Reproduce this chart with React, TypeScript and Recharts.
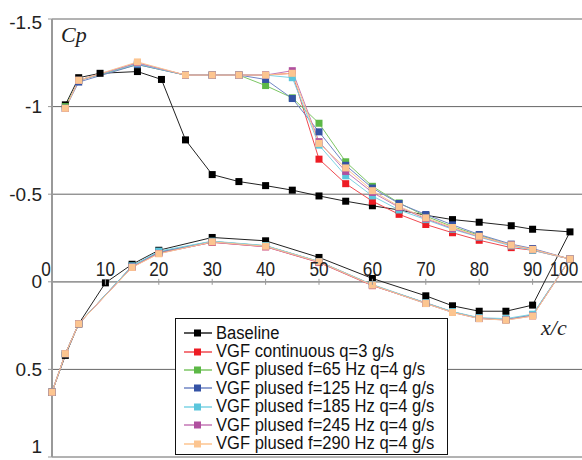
import { LineChart, Line, XAxis, YAxis, CartesianGrid, ReferenceLine } from "recharts";

// tap positions (x/c, %)
const baseLowerX = [0, 2.5, 5, 10, 15, 20, 30, 40, 50, 60, 70, 75, 80, 85, 90];
const baseUpperX = [2.5, 5, 9, 16, 20.5, 25, 30, 35, 40, 45, 50, 55, 60, 65, 70, 75, 80, 86, 90, 97];
const vgfLowerX = [0, 2.5, 5, 15, 20, 30, 40, 50, 60, 70, 75, 80, 85, 90];
const vgfUpperX = [2.5, 5, 16, 25, 30, 35, 40, 45, 50, 55, 60, 65, 70, 75, 80, 86, 90, 97];

// Cp values
const baseLower = [0.63, 0.42, 0.24, 0.006, -0.1, -0.18, -0.253, -0.234, -0.139, -0.019, 0.08, 0.137, 0.168, 0.168, 0.133];
const baseUpper = [-1.01, -1.165, -1.19, -1.2, -1.155, -0.81, -0.612, -0.572, -0.549, -0.523, -0.49, -0.46, -0.434, -0.41, -0.38, -0.355, -0.34, -0.32, -0.3, -0.285];

const contLower = [0.63, 0.41, 0.24, -0.085, -0.165, -0.225, -0.2, -0.11, 0.022, 0.12, 0.172, 0.207, 0.215, 0.19];
const contUpper = [-0.99, -1.15, -1.245, -1.18, -1.18, -1.18, -1.18, -1.19, -0.7, -0.56, -0.46, -0.385, -0.327, -0.28, -0.237, -0.195, -0.18, -0.13];

const f65Lower = [0.63, 0.41, 0.24, -0.09, -0.17, -0.23, -0.205, -0.115, 0.018, 0.122, 0.172, 0.208, 0.217, 0.19];
const f65Upper = [-1.0, -1.15, -1.24, -1.18, -1.18, -1.18, -1.12, -1.05, -0.905, -0.685, -0.545, -0.45, -0.375, -0.315, -0.265, -0.21, -0.185, -0.13];

const f125Lower = [0.63, 0.41, 0.24, -0.09, -0.17, -0.23, -0.205, -0.115, 0.018, 0.122, 0.173, 0.208, 0.216, 0.19];
const f125Upper = [-0.99, -1.14, -1.24, -1.18, -1.18, -1.18, -1.155, -1.046, -0.856, -0.665, -0.535, -0.447, -0.384, -0.325, -0.27, -0.215, -0.19, -0.13];

const f185Lower = [0.63, 0.41, 0.24, -0.09, -0.175, -0.232, -0.207, -0.116, 0.016, 0.12, 0.17, 0.205, 0.21, 0.185];
const f185Upper = [-0.99, -1.15, -1.245, -1.18, -1.18, -1.18, -1.18, -1.165, -0.78, -0.605, -0.49, -0.41, -0.355, -0.3, -0.255, -0.205, -0.18, -0.13];

const f245Lower = [0.63, 0.41, 0.24, -0.084, -0.162, -0.226, -0.2, -0.112, 0.02, 0.124, 0.175, 0.21, 0.218, 0.195];
const f245Upper = [-0.99, -1.15, -1.25, -1.18, -1.18, -1.18, -1.18, -1.205, -0.8, -0.63, -0.51, -0.425, -0.36, -0.305, -0.258, -0.21, -0.185, -0.13];

const f290Lower = [0.63, 0.41, 0.24, -0.082, -0.16, -0.228, -0.203, -0.114, 0.019, 0.124, 0.175, 0.21, 0.219, 0.196];
const f290Upper = [-0.99, -1.15, -1.255, -1.18, -1.18, -1.18, -1.18, -1.19, -0.79, -0.65, -0.52, -0.43, -0.365, -0.31, -0.26, -0.21, -0.185, -0.13];

const xTicks = [0, 10, 20, 30, 40, 50, 60, 70, 80, 90, 100];
const yTicks = [-1.5, -1, -0.5, 0, 0.5, 1];

// lower surface LE -> TE, then upper surface TE -> LE
function loop(lx: number[], lcp: number[], ux: number[], ucp: number[]) {
  const lower = lx.map((x, i) => ({ x, cp: lcp[i] }));
  const upper = ux.map((x, i) => ({ x, cp: ucp[i] })).reverse();
  return [...lower, ...upper];
}

const series = [
  { name: "Baseline", line: "#222", marker: "#000", data: loop(baseLowerX, baseLower, baseUpperX, baseUpper) },
  { name: "VGF continuous q=3 g/s", line: "#f04a50", marker: "#ed1c24", data: loop(vgfLowerX, contLower, vgfUpperX, contUpper) },
  { name: "VGF plused f=65 Hz q=4 g/s", line: "#7cc664", marker: "#5cb846", data: loop(vgfLowerX, f65Lower, vgfUpperX, f65Upper) },
  { name: "VGF plused f=125 Hz q=4 g/s", line: "#7186c4", marker: "#3553a5", data: loop(vgfLowerX, f125Lower, vgfUpperX, f125Upper) },
  { name: "VGF plused f=185 Hz q=4 g/s", line: "#7dd3e4", marker: "#5bc6dc", data: loop(vgfLowerX, f185Lower, vgfUpperX, f185Upper) },
  { name: "VGF plused f=245 Hz q=4 g/s", line: "#c477b6", marker: "#b0509f", data: loop(vgfLowerX, f245Lower, vgfUpperX, f245Upper) },
  { name: "VGF plused f=290 Hz q=4 g/s", line: "#fcc590", marker: "#fcc590", data: loop(vgfLowerX, f290Lower, vgfUpperX, f290Upper) },
];

const W = 600;
const H = 460;
const margin = { top: 19, right: 14, bottom: 2, left: 0 };
const xAxisH = 1;
const plotH = H - margin.top - margin.bottom - xAxisH;
// y of Cp = 0 inside the plot (domain -1.5 .. 1, reversed)
const zeroY = margin.top + plotH * (1.5 / 2.5);

const sans = "'Liberation Sans', Arial, sans-serif";
const serif = "'Liberation Serif', 'Times New Roman', serif";

function XTick(props: any) {
  const { x, payload } = props;
  let dx = 0;
  if (payload.value === 0) dx = -6;
  if (payload.value === 100) dx = -22;
  return (
    <g>
      <line x1={x} x2={x} y1={zeroY - 3} y2={zeroY + 3} stroke="#999" />
      <text
        transform={`translate(${x + dx},${zeroY - 6}) scale(0.82,1)`}
        textAnchor="middle"
        fontSize={21}
        fontFamily={sans}
        fill="#222"
      >
        {payload.value}
      </text>
    </g>
  );
}

function YTick(props: any) {
  const { x, y, payload } = props;
  let dy = 0;
  if (payload.value === 1) dy = -11;
  if (payload.value === -1.5) dy = 3;
  return (
    <text x={x} y={y + dy} textAnchor="end" dominantBaseline="central" fontSize={19} fontFamily={sans} fill="#222">
      {payload.value}
    </text>
  );
}

function squareDot(color: string, name: string) {
  return (p: any) => (
    <rect key={`${name}-${p.index}`} x={p.cx - 3.5} y={p.cy - 3.5} width={7} height={7} fill={color} />
  );
}

export default function App() {
  return (
    <div style={{ position: "absolute", left: 0, top: 0, width: 582, height: 460, overflow: "hidden", background: "#fff" }}>
      <LineChart width={W} height={H} margin={margin}>
        <CartesianGrid vertical={false} stroke="#666" />
        <XAxis
          type="number"
          dataKey="x"
          domain={[0, 100]}
          ticks={xTicks}
          height={xAxisH}
          axisLine={false}
          tickLine={false}
          tick={<XTick />}
          interval={0}
        />
        <YAxis
          type="number"
          dataKey="cp"
          reversed
          domain={[-1.5, 1]}
          ticks={yTicks}
          width={52}
          axisLine={{ stroke: "#999", strokeWidth: 2 }}
          tickLine={{ stroke: "#999" }}
          tickSize={4}
          tickMargin={6}
          tick={<YTick />}
          interval={0}
        />
        <ReferenceLine y={0} stroke="#999" strokeWidth={1.5} />
        {series.map((s) => (
          <Line
            key={s.name}
            data={s.data}
            dataKey="cp"
            name={s.name}
            type="linear"
            stroke={s.line}
            strokeWidth={1}
            dot={squareDot(s.marker, s.name)}
            activeDot={false}
            isAnimationActive={false}
          />
        ))}
      </LineChart>

      <div style={{ position: "absolute", left: 61, top: 24, fontFamily: serif, fontStyle: "italic", fontSize: 22, lineHeight: 1, color: "#222" }}>
        Cp
      </div>
      <div style={{ position: "absolute", left: 541, top: 317, fontFamily: serif, fontStyle: "italic", fontSize: 22, lineHeight: 1, color: "#222" }}>
        x/c
      </div>

      <div
        style={{
          position: "absolute",
          left: 175,
          top: 318,
          width: 273,
          height: 137,
          boxSizing: "border-box",
          border: "1.5px solid #111",
          background: "#fff",
          paddingTop: 5,
        }}
      >
        {series.map((s) => (
          <div key={s.name} style={{ position: "relative", height: 18.4, display: "flex", alignItems: "center" }}>
            <svg width={40} height={18} style={{ flex: "none" }}>
              <line x1={8} x2={36} y1={9} y2={9} stroke={s.line} strokeWidth={1.5} />
              <rect x={18} y={5.5} width={7} height={7} fill={s.marker} />
            </svg>
            <span
              style={{
                fontFamily: sans,
                fontSize: 18,
                color: "#111",
                whiteSpace: "nowrap",
                display: "inline-block",
                transform: "scaleX(0.92)",
                transformOrigin: "left center",
              }}
            >
              {s.name}
            </span>
          </div>
        ))}
      </div>
    </div>
  );
}
